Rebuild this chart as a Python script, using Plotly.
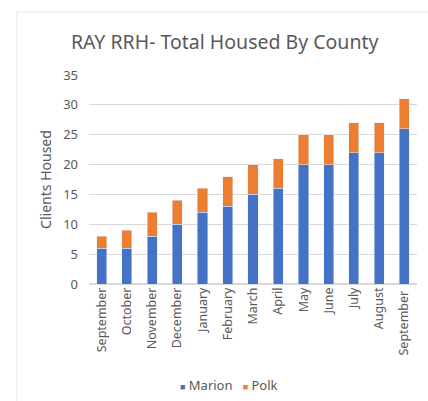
import plotly.graph_objects as go

months = ["September", "October", "November", "December", "January", "February",
          "March", "April", "May", "June", "July", "August", "September "]
marion = [6, 6, 8, 10, 12, 13, 15, 16, 20, 20, 22, 22, 26]
polk = [2, 3, 4, 4, 4, 5, 5, 5, 5, 5, 5, 5, 5]

blue = "#4472C4"
orange = "#ED7D31"
text_gray = "#595959"
font_family = "Noto Sans, Open Sans, sans-serif"

fig = go.Figure()
fig.add_trace(go.Bar(x=months, y=marion, name="Marion", marker_color=blue))
fig.add_trace(go.Bar(x=months, y=polk, name="Polk", marker_color=orange))

# compact legend row beneath the axis labels
legend_text = (
    f'<span style="color:{blue};font-size:9px">■</span> Marion'
    f'&nbsp;&nbsp;&nbsp;<span style="color:{orange};font-size:9px">■</span> Polk'
)

fig.update_layout(
    barmode="stack",
    bargap=0.6,
    width=428,
    height=401,
    showlegend=False,
    margin=dict(l=89, r=11, t=75, b=117, autoexpand=False),
    paper_bgcolor="white",
    plot_bgcolor="white",
    font=dict(family=font_family, color=text_gray),
    title=dict(text="RAY RRH- Total Housed By County", x=0.525, xanchor="center",
               xref="container", yref="container",
               y=1 - 42 / 401, yanchor="middle",
               font=dict(size=19.5, color=text_gray)),
    xaxis=dict(tickangle=-90, tickfont=dict(size=12.5, color=text_gray),
               showgrid=False, showline=False, ticks="", automargin=False),
    yaxis=dict(range=[0, 35], dtick=5, tickfont=dict(size=13, color=text_gray),
               gridcolor="#D9D9D9", gridwidth=1, zeroline=True, zerolinecolor="#D9D9D9",
               ticks="", ticklabelstandoff=10, automargin=False,
               title=dict(text="Clients Housed", font=dict(size=14, color=text_gray),
                          standoff=8)),
    annotations=[
        dict(text=legend_text, xref="paper", yref="paper", x=(229 - 89) / 328,
             y=-(385 - 284) / 209, xanchor="center", yanchor="middle",
             showarrow=False, font=dict(size=13, color=text_gray)),
    ],
    shapes=[
        dict(type="line", xref="paper", yref="paper",
             x0=-72 / 328, x1=1.1, y0=1 + 63 / 209, y1=1 + 63 / 209,
             line=dict(color="#E8E8E8", width=1)),
        dict(type="line", xref="paper", yref="paper",
             x0=-72 / 328, x1=-72 / 328, y0=1 + 63 / 209, y1=-1.0,
             line=dict(color="#E8E8E8", width=1)),
    ],
)

fig.write_html("out.html")
